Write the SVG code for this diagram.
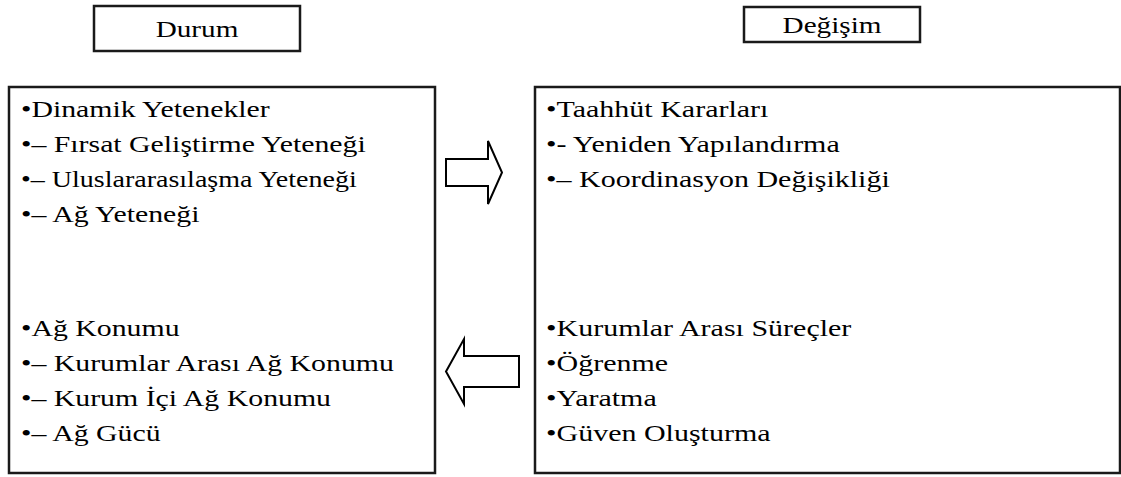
<svg xmlns="http://www.w3.org/2000/svg" width="1121" height="477" viewBox="0 0 1121 477">
  <style>
    .box { fill: #fff; stroke: #1a1a1a; stroke-width: 2.5; }
    .arrow { fill: #fff; stroke: #000; stroke-width: 2; stroke-linejoin: miter; }
    text { font-family: "Liberation Serif", "Times New Roman", serif; font-size: 23px; fill: #000; }
    .title { text-anchor: middle; }
  </style>
  <rect width="1121" height="477" fill="#fff"/>

  <!-- heading: Durum -->
  <g id="heading-durum">
    <rect class="box" x="94" y="6" width="206" height="45"/>
    <text class="title" transform="matrix(1.27 0 0 1 197 37)">Durum</text>
  </g>

  <!-- heading: Değişim -->
  <g id="heading-degisim">
    <rect class="box" x="744" y="7" width="176" height="35"/>
    <text class="title" transform="matrix(1.27 0 0 1 832 33)">Değişim</text>
  </g>

  <!-- left panel: state -->
  <g id="panel-durum">
    <rect class="box" x="9" y="87" width="426" height="386"/>
    <text transform="matrix(1.296 0 0 1 21 116.5)">•Dinamik Yetenekler</text>
    <text transform="matrix(1.296 0 0 1 21 151.5)">•– Fırsat Geliştirme Yeteneği</text>
    <text transform="matrix(1.296 0 0 1 21 186.5)" textLength="259" lengthAdjust="spacingAndGlyphs">•– Uluslararasılaşma Yeteneği</text>
    <text transform="matrix(1.296 0 0 1 21 221.5)">•– Ağ Yeteneği</text>
    <text transform="matrix(1.296 0 0 1 21 335.5)">•Ağ Konumu</text>
    <text transform="matrix(1.296 0 0 1 21 370.5)">•– Kurumlar Arası Ağ Konumu</text>
    <text transform="matrix(1.296 0 0 1 21 405.5)">•– Kurum İçi Ağ Konumu</text>
    <text transform="matrix(1.296 0 0 1 21 440.5)">•– Ağ Gücü</text>
  </g>

  <!-- right panel: change -->
  <g id="panel-degisim">
    <rect class="box" x="535" y="87" width="585" height="386"/>
    <text transform="matrix(1.305 0 0 1 546 116.5)">•Taahhüt Kararları</text>
    <text transform="matrix(1.305 0 0 1 546 151.5)">•- Yeniden Yapılandırma</text>
    <text transform="matrix(1.305 0 0 1 546 186.5)">•– Koordinasyon Değişikliği</text>
    <text transform="matrix(1.305 0 0 1 546 335.5)">•Kurumlar Arası Süreçler</text>
    <text transform="matrix(1.305 0 0 1 546 370.5)">•Öğrenme</text>
    <text transform="matrix(1.305 0 0 1 546 405.5)">•Yaratma</text>
    <text transform="matrix(1.305 0 0 1 546 440.5)">•Güven Oluşturma</text>
  </g>

  <!-- block arrows between the panels -->
  <g id="connectors">
    <polygon class="arrow" points="446,159 488,159 488,141 502,172.5 488,204 488,186 446,186"/>
    <polygon class="arrow" points="519,356 464,356 464,339 446,371.5 464,404 464,387 519,387"/>
  </g>
</svg>
